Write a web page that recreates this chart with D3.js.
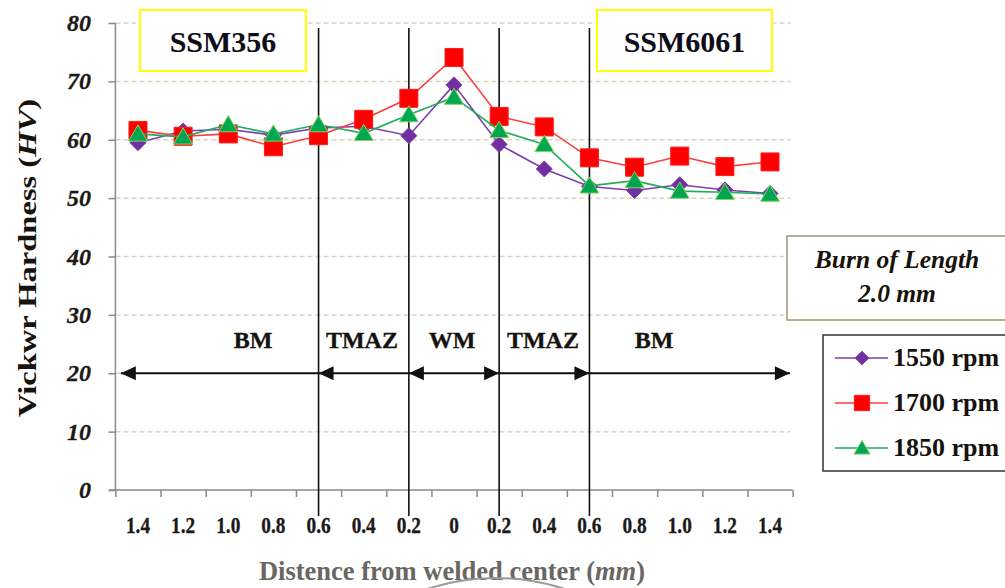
<!DOCTYPE html>
<html>
<head>
<meta charset="utf-8">
<script src="https://cdn.jsdelivr.net/npm/d3@7"></script>
<style>
  html, body { margin: 0; padding: 0; background: #fff; }
  svg { display: block; }
  text { font-family: "Liberation Serif", "Times New Roman", serif; }
</style>
</head>
<body>
<svg id="chart" width="1005" height="588"></svg>
<script>
// Distance from weld centre (mm), read left (SSM356 side) to right (SSM6061 side)
const distanceLabels = ["1.4", "1.2", "1.0", "0.8", "0.6", "0.4", "0.2", "0",
                        "0.2", "0.4", "0.6", "0.8", "1.0", "1.2", "1.4"];

// Vickers hardness (HV) per rotational speed
const hv1550 = [59.5, 61.5, 61.8, 60.8, 62.0, 62.3, 60.7, 69.4, 59.2, 55.0, 52.0, 51.3, 52.3, 51.4, 50.8];
const hv1700 = [61.6, 60.6, 61.0, 58.8, 60.7, 63.5, 67.1, 74.1, 64.0, 62.2, 56.9, 55.3, 57.2, 55.4, 56.2];
const hv1850 = [61.0, 60.5, 62.6, 61.0, 62.6, 61.1, 64.3, 67.3, 61.6, 59.2, 52.1, 53.0, 51.2, 51.0, 50.7];

const seriesNames = ["1550 rpm", "1700 rpm", "1850 rpm"];
const yTicks = [0, 10, 20, 30, 40, 50, 60, 70, 80];

// Weld zones along the traverse (boundaries given as point indices)
const zoneNames = ["BM", "TMAZ", "WM", "TMAZ", "BM"];
const zoneBounds = [-0.38, 4, 6, 8, 10, 14.44];
const zoneLevel = 20;          // hardness level where the zone arrows run
const zoneDividers = [4, 6, 8, 10];

const svg = d3.select("#chart");

const margin = { left: 115.4, right: 792.6, top: 23, bottom: 490 };
const x = d3.scaleBand().domain(d3.range(distanceLabels.length)).range([margin.left, margin.right]);
const xi = d3.scaleLinear().domain([-0.5, distanceLabels.length - 0.5]).range([margin.left, margin.right]);
const y = d3.scaleLinear().domain([0, 80]).range([margin.bottom, margin.top]);
const cx = i => x(i) + x.bandwidth() / 2;

// Horizontal dashed gridlines
svg.append("g").selectAll("line").data(yTicks.filter(t => t > 0)).join("line")
  .attr("x1", margin.left).attr("x2", margin.right - 2)
  .attr("y1", d => y(d)).attr("y2", d => y(d))
  .attr("stroke", "#dad6c2").attr("stroke-width", 1.5).attr("stroke-dasharray", "5,3");

// Y axis
const yAxis = svg.append("g").attr("transform", `translate(${margin.left},0)`)
  .call(d3.axisLeft(y).tickValues(yTicks).tickSize(7).tickFormat(""));
yAxis.select(".domain").attr("stroke", "#8a8a8a").attr("stroke-width", 1.5)
  .attr("d", `M0,${margin.top}V${margin.bottom}`);
yAxis.selectAll(".tick line").attr("stroke", "#8a8a8a").attr("stroke-width", 1.5);

svg.append("g").selectAll("text").data(yTicks).join("text")
  .attr("x", 91).attr("y", d => y(d) + 8)
  .attr("text-anchor", "end")
  .attr("font-size", 24).attr("font-weight", "bold").attr("font-style", "italic")
  .attr("fill", "#1c1a18").attr("stroke", "#1c1a18").attr("stroke-width", 0.3)
  .text(d => d);

// X axis: tick marks sit on category boundaries
const xAxis = svg.append("g").attr("transform", `translate(0,${margin.bottom})`)
  .call(d3.axisBottom(xi).tickValues(d3.range(-0.5, distanceLabels.length)).tickSize(7).tickFormat(""));
xAxis.select(".domain").attr("stroke", "#8a8a8a").attr("stroke-width", 1.5)
  .attr("d", `M${margin.left - 6},0H${margin.right}`);
xAxis.selectAll(".tick line").attr("stroke", "#8a8a8a").attr("stroke-width", 1.5);

svg.append("g").selectAll("text").data(distanceLabels).join("text")
  .attr("transform", (d, i) => `translate(${cx(i)},533) scale(0.92,1.08)`)
  .attr("text-anchor", "middle")
  .attr("font-size", 21).attr("font-weight", "bold")
  .attr("fill", "#1c1a18").attr("stroke", "#1c1a18").attr("stroke-width", 0.3)
  .text(d => d);

// Zone dividers
svg.append("g").selectAll("line").data(zoneDividers).join("line")
  .attr("x1", d => cx(d)).attr("x2", d => cx(d))
  .attr("y1", 28).attr("y2", 516)
  .attr("stroke", "#111").attr("stroke-width", 1.6);

// Zone arrows
const arrowY = y(zoneLevel);
const headL = 15, headW = 7;
const arrowHeads = [["start"], ["start"], ["start", "end"], ["end"], ["end"]];
const zones = svg.append("g");
zoneNames.forEach((name, k) => {
  const x0 = xi(zoneBounds[k]), x1 = xi(zoneBounds[k + 1]);
  zones.append("line").attr("x1", x0).attr("x2", x1)
    .attr("y1", arrowY).attr("y2", arrowY)
    .attr("stroke", "#111").attr("stroke-width", 2);
  arrowHeads[k].forEach(h => {
    const tip = h === "start" ? x0 : x1;
    const dir = h === "start" ? 1 : -1;
    zones.append("path")
      .attr("d", `M${tip},${arrowY}L${tip + dir * headL},${arrowY - headW}L${tip + dir * headL},${arrowY + headW}Z`)
      .attr("fill", "#111");
  });
});
const zoneLabelAt = [2.55, 4.96, 6.96, 8.97, 11.43];
svg.append("g").selectAll("text").data(zoneNames).join("text")
  .attr("x", (d, i) => xi(zoneLabelAt[i])).attr("y", 348)
  .attr("text-anchor", "middle")
  .attr("font-size", 24).attr("font-weight", "bold")
  .attr("fill", "#15130f").attr("stroke", "#15130f").attr("stroke-width", 0.3)
  .text(d => d);

// Marker shapes
const shapes = {
  diamond: s => `M0,${-s}L${s},0L0,${s}L${-s},0Z`,
  square: s => `M${-s},${-s}H${s}V${s}H${-s}Z`,
  triangle: s => `M0,${-s}L${s * 1.05},${s * 0.8}L${-s * 1.05},${s * 0.8}Z`
};

const series = [
  { name: seriesNames[0], values: hv1550, line: "#7b3fb3", fill: "#7030a0", stroke: "#7a3bb0", shape: "diamond", size: 8 },
  { name: seriesNames[1], values: hv1700, line: "#ff3b3b", fill: "#ff0000", stroke: "#ff1a1a", shape: "square", size: 9 },
  { name: seriesNames[2], values: hv1850, line: "#1fae5c", fill: "#00a651", stroke: "#86d45c", shape: "triangle", size: 9 }
];

const line = d3.line().x((d, i) => cx(i)).y(d => y(d));
series.forEach(s => {
  const g = svg.append("g");
  g.append("path").attr("d", line(s.values))
    .attr("fill", "none").attr("stroke", s.line).attr("stroke-width", 1.6);
  g.selectAll("path.mk").data(s.values).join("path").attr("class", "mk")
    .attr("transform", (d, i) => `translate(${cx(i)},${y(d)})`)
    .attr("d", shapes[s.shape](s.size))
    .attr("fill", s.fill).attr("stroke", s.stroke).attr("stroke-width", 1);
});

// Material labels
const materials = [
  { text: "SSM356", x0: 140, x1: 306 },
  { text: "SSM6061", x0: 597, x1: 772 }
];
materials.forEach(m => {
  svg.append("rect").attr("x", m.x0).attr("y", 10).attr("width", m.x1 - m.x0).attr("height", 61)
    .attr("fill", "#fff").attr("stroke", "#ffff00").attr("stroke-width", 2);
  svg.append("text").attr("x", (m.x0 + m.x1) / 2).attr("y", 52)
    .attr("text-anchor", "middle").attr("font-size", 30).attr("font-weight", "bold")
    .attr("fill", "#0d0d1a").text(m.text);
});

// Burn-off length note
svg.append("rect").attr("x", 787).attr("y", 236).attr("width", 222).attr("height", 84)
  .attr("fill", "#fff").attr("stroke", "#a29c78").attr("stroke-width", 1.6);
svg.append("text").attr("x", 897).attr("y", 268).attr("text-anchor", "middle")
  .attr("font-size", 25.5).attr("font-weight", "bold").attr("font-style", "italic")
  .attr("fill", "#17130c").text("Burn of Length");
svg.append("text").attr("x", 897).attr("y", 302).attr("text-anchor", "middle")
  .attr("font-size", 25.5).attr("font-weight", "bold").attr("font-style", "italic")
  .attr("fill", "#17130c").text("2.0 mm");

// Legend
const legend = svg.append("g");
legend.append("rect").attr("x", 823).attr("y", 335).attr("width", 190).attr("height", 136)
  .attr("fill", "#fff").attr("stroke", "#3d3d3d").attr("stroke-width", 1.6);
series.forEach((s, k) => {
  const ly = 358 + k * 45;
  legend.append("line").attr("x1", 835).attr("x2", 888).attr("y1", ly).attr("y2", ly)
    .attr("stroke", s.line).attr("stroke-width", 1.6);
  legend.append("path").attr("transform", `translate(862,${ly})`)
    .attr("d", shapes[s.shape](s.size * 0.85))
    .attr("fill", s.fill).attr("stroke", s.stroke).attr("stroke-width", 1);
  legend.append("text").attr("x", 893).attr("y", ly + 8)
    .attr("font-size", 26).attr("font-weight", "bold").attr("fill", "#16120d")
    .text(s.name);
});

// Axis titles
const yTitle = svg.append("text").attr("transform", "translate(36,258) rotate(-90)")
  .attr("text-anchor", "middle").attr("font-size", 26).attr("font-weight", "bold")
  .attr("fill", "#16120d").attr("textLength", 318).attr("lengthAdjust", "spacingAndGlyphs");
yTitle.append("tspan").text("Vickwr Hardness (");
yTitle.append("tspan").attr("font-style", "italic").text("HV");
yTitle.append("tspan").text(")");

const xTitle = svg.append("text").attr("x", 452).attr("y", 580)
  .attr("text-anchor", "middle").attr("font-size", 26.5).attr("font-weight", "bold")
  .attr("fill", "#6a6661");
xTitle.append("tspan").text("Distence from welded center (");
xTitle.append("tspan").attr("font-style", "italic").text("mm");
xTitle.append("tspan").text(")");

// Faint stroke under the axis title
svg.append("path").attr("d", "M424,590Q495,566 568,590")
  .attr("fill", "none").attr("stroke", "#9a9a9a").attr("stroke-width", 2);
</script>
</body>
</html>
